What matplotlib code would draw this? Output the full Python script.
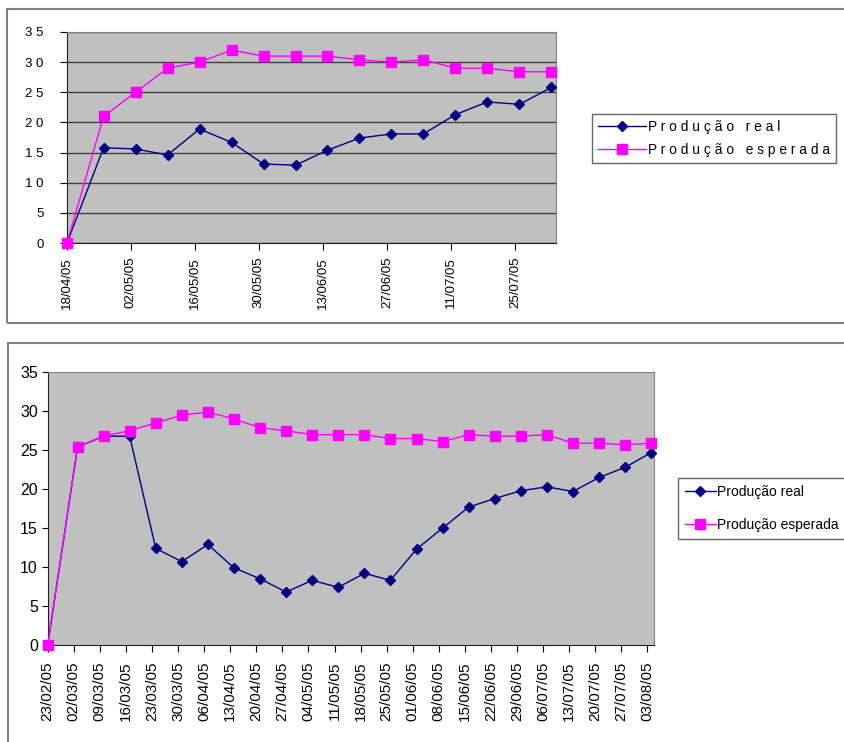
import matplotlib
matplotlib.use("Agg")
import matplotlib.pyplot as plt
import matplotlib.dates as mdates
from matplotlib.patches import Rectangle
import pandas as pd

plt.rcParams['font.family'] = ['Liberation Sans', 'DejaVu Sans']

# first chart (april - august)
top_dates = ["18/04/05", "26/04/05", "03/05/05", "10/05/05", "17/05/05", "24/05/05",
             "31/05/05", "07/06/05", "14/06/05", "21/06/05", "28/06/05", "05/07/05",
             "12/07/05", "19/07/05", "26/07/05", "02/08/05"]
top_real = [0, 15.8, 15.6, 14.6, 18.9, 16.7, 13.1, 12.9, 15.4, 17.4, 18.1, 18.1,
            21.3, 23.4, 23.0, 25.8]
top_expected = [0, 21, 25, 29, 30, 32, 31, 31, 31, 30.4, 30, 30.4, 29, 29, 28.4, 28.4]

# second chart (february - august)
bottom_dates = ["23/02/05", "03/03/05", "10/03/05", "17/03/05", "24/03/05", "31/03/05",
                "07/04/05", "14/04/05", "21/04/05", "28/04/05", "05/05/05", "12/05/05",
                "19/05/05", "26/05/05", "02/06/05", "09/06/05", "16/06/05", "23/06/05",
                "30/06/05", "07/07/05", "14/07/05", "21/07/05", "28/07/05", "04/08/05"]
bottom_real = [0, 25.4, 26.8, 26.8, 12.4, 10.7, 12.9, 9.9, 8.5, 6.8, 8.3, 7.4,
               9.2, 8.3, 12.3, 15.0, 17.7, 18.8, 19.8, 20.3, 19.7, 21.5, 22.8, 24.7]
bottom_expected = [0, 25.4, 26.8, 27.5, 28.5, 29.5, 29.9, 29.0, 27.9, 27.5, 27.0, 27.0,
                   27.0, 26.5, 26.5, 26.1, 27.0, 26.8, 26.8, 27.0, 25.9, 25.9, 25.7, 25.9]

label_real = "Produção real"
label_expected = "Produção esperada"

W, H = 844, 742
fig = plt.figure(figsize=(W / 100, H / 100), dpi=100)


def box(x0, y0, x1, y1):
    # pixel box (from top-left) -> figure fraction rect
    return [x0 / W, 1 - y1 / H, (x1 - x0) / W, (y1 - y0) / H]


def spaced(s):
    return " ".join(s)


# outer chart frames
for x0, y0, x1, y1 in [(7, 9, 850, 323), (8, 343, 850, 760)]:
    r = box(x0, y0, x1, y1)
    fig.patches.append(Rectangle((r[0], r[1]), r[2], r[3], transform=fig.transFigure,
                                 fill=False, edgecolor='#808080', lw=1.5))

navy = '#000080'
magenta = '#FF00FF'

# ---- top chart ----
ax1 = fig.add_axes(box(67, 32, 556, 243))
td = pd.to_datetime(top_dates, dayfirst=True)
ax1.set_facecolor('#C0C0C0')
ax1.plot(td, top_real, color=navy, lw=1, marker='D', ms=5.5, clip_on=False,
         zorder=3, label=spaced(label_real))
ax1.plot(td, top_expected, color=magenta, lw=1, marker='s', ms=7, clip_on=False,
         zorder=4, label=spaced(label_expected))
ax1.set_xlim(pd.Timestamp('2005-04-18'), pd.Timestamp('2005-08-03'))
ax1.set_ylim(0, 35)
ax1.set_yticks(range(0, 36, 5))
ax1.set_yticklabels([spaced(str(v)) for v in range(0, 36, 5)], fontsize=9.5)
ax1.set_xticks(pd.date_range('2005-04-18', '2005-08-02', freq='14D'))
ax1.xaxis.set_major_formatter(mdates.DateFormatter('%d/%m/%y'))
ax1.tick_params(axis='x', labelrotation=90, labelsize=9.5, length=5, pad=5)
ax1.tick_params(axis='y', length=5, pad=12)
ax1.yaxis.grid(True, color='#404040', lw=1)
ax1.set_axisbelow(True)
for s in ['top', 'right']:
    ax1.spines[s].set_color('#808080')
for s in ['left', 'bottom']:
    ax1.spines[s].set_color('#202020')

leg1 = fig.legend(*ax1.get_legend_handles_labels(), loc='upper left',
                  bbox_to_anchor=(592 / W, 1 - 114 / H), borderaxespad=0,
                  fontsize=9.9, frameon=True, fancybox=False, handlelength=3.5,
                  handletextpad=0.2, borderpad=0.4, labelspacing=0.7)
leg1.get_frame().set_edgecolor('#404040')
leg1.get_frame().set_linewidth(1)

# ---- bottom chart ----
ax2 = fig.add_axes(box(47.7, 372.3, 654.3, 645))
bd = pd.to_datetime(bottom_dates, dayfirst=True)
ax2.set_facecolor('#C0C0C0')
ax2.plot(bd, bottom_real, color=navy, lw=1, marker='D', ms=5, clip_on=False,
         zorder=3, label=label_real)
ax2.plot(bd, bottom_expected, color=magenta, lw=1, marker='s', ms=6.5, clip_on=False,
         zorder=4, label=label_expected)
ax2.set_xlim(pd.Timestamp('2005-02-23'), pd.Timestamp('2005-08-04 20:00'))
ax2.set_ylim(0, 35)
ax2.set_yticks(range(0, 36, 5))
ax2.set_xticks(pd.date_range('2005-02-23', '2005-08-03', freq='7D'))
ax2.xaxis.set_major_formatter(mdates.DateFormatter('%d/%m/%y'))
ax2.tick_params(axis='x', labelrotation=90, labelsize=11, length=5, pad=7)
ax2.tick_params(axis='y', labelsize=11.5, length=4, pad=3)
for s in ['top', 'right']:
    ax2.spines[s].set_color('#808080')
for s in ['left', 'bottom']:
    ax2.spines[s].set_color('#202020')

leg2 = fig.legend(*ax2.get_legend_handles_labels(), loc='upper left',
                  bbox_to_anchor=(678 / W, 1 - 478 / H), borderaxespad=0,
                  fontsize=10, frameon=True, fancybox=False, handlelength=2.2,
                  handletextpad=0.1, borderpad=0.5, labelspacing=1.35)
leg2.get_frame().set_edgecolor('#404040')
leg2.get_frame().set_linewidth(1)

fig.savefig('out.png', dpi=100)
